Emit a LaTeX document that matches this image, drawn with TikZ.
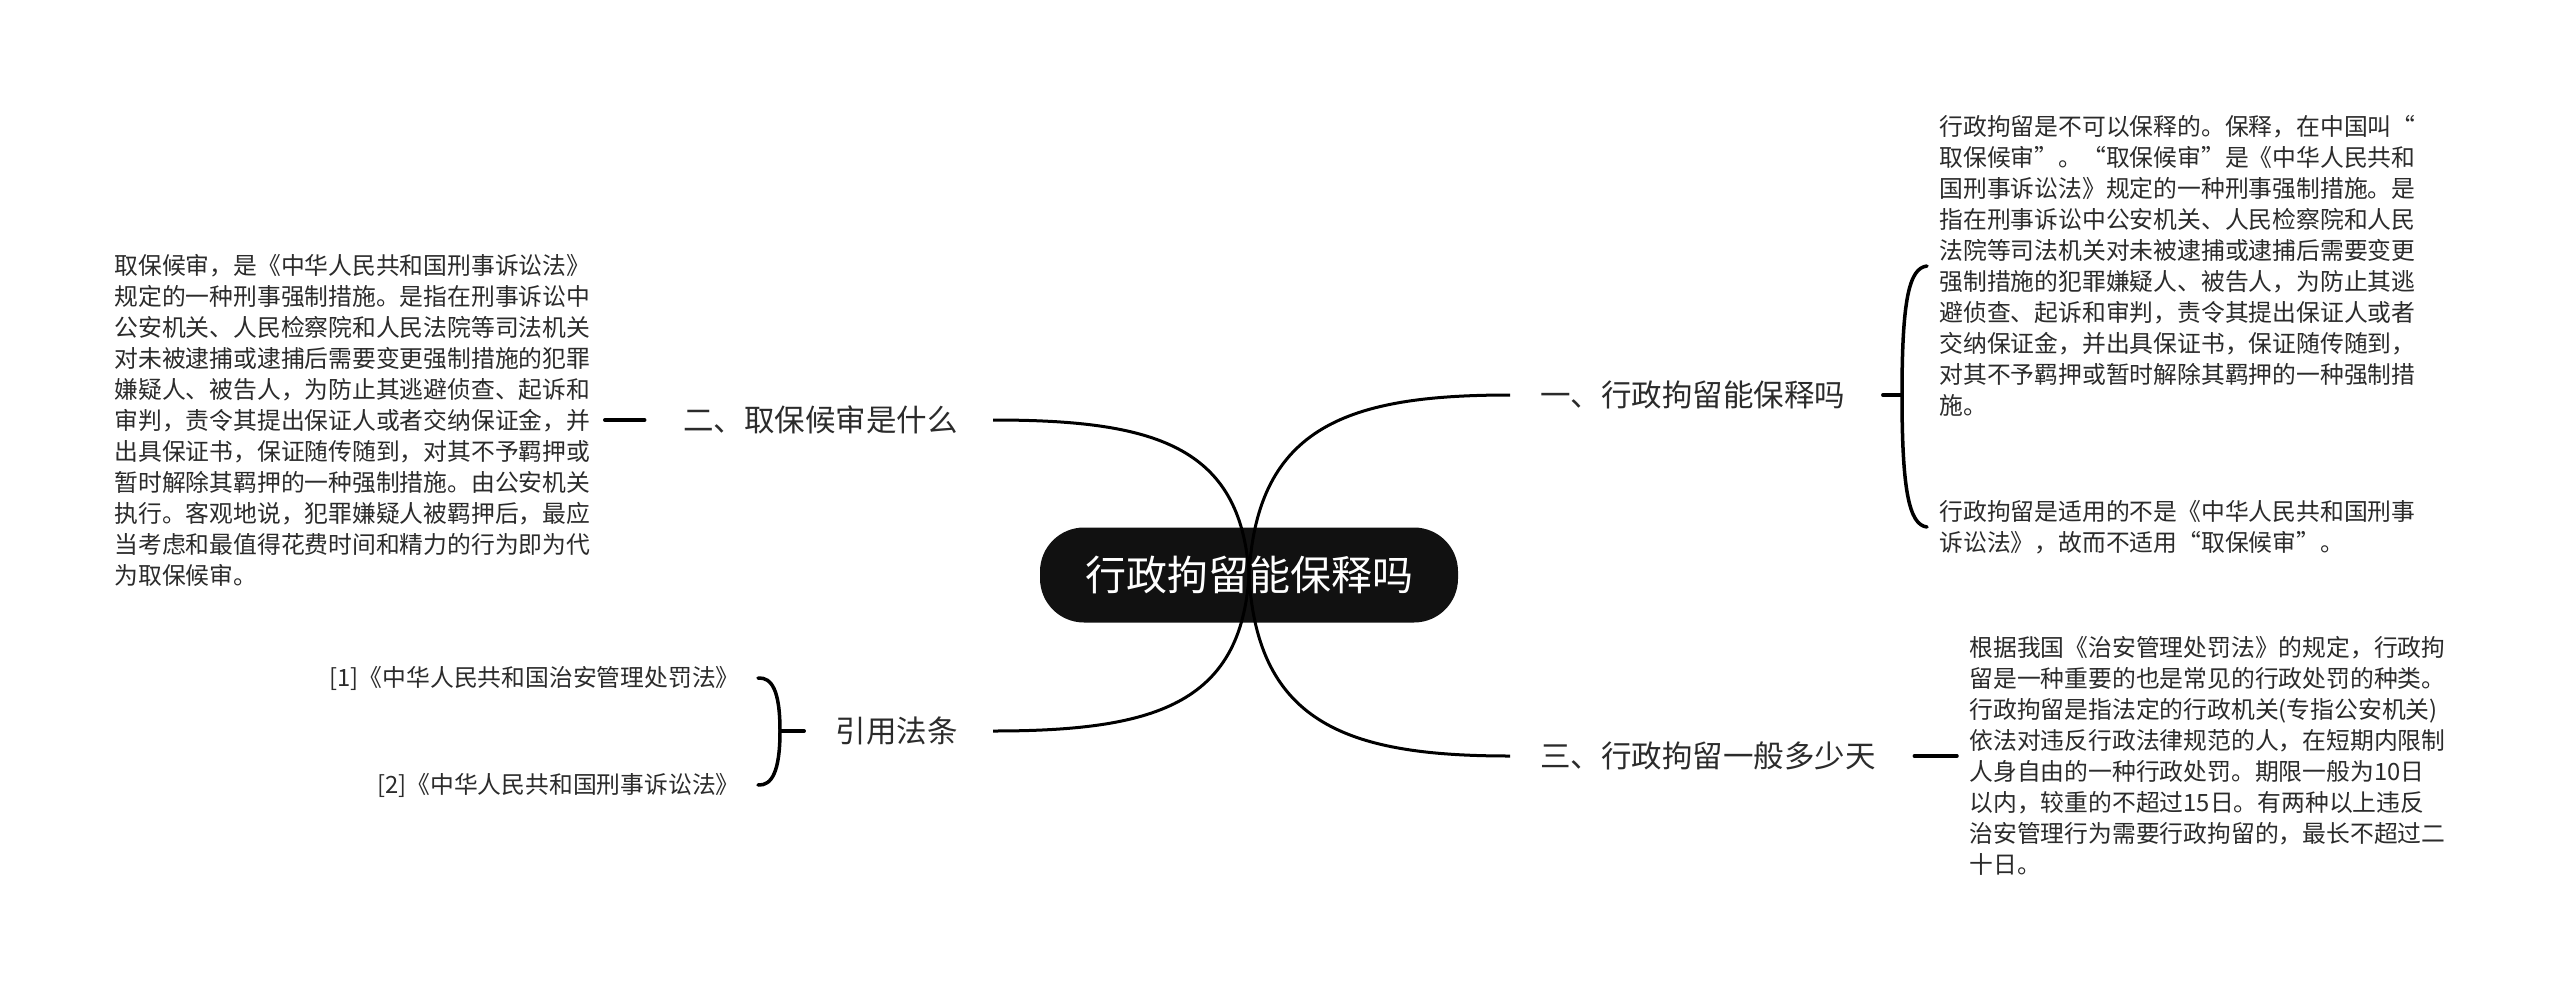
\documentclass[tikz,border=0pt]{standalone}
\usepackage{fontspec}
\setmainfont{Noto Sans CJK SC}
\definecolor{txt}{HTML}{2B2B2B}
\definecolor{rootfill}{HTML}{111111}
\tikzset{
  root/.style={fill=rootfill, rounded corners=22pt, minimum width=209pt, minimum height=47.5pt,
    text=white, inner sep=0pt, font=\fontsize{20.5pt}{24pt}\selectfont},
  topic/.style={inner sep=0pt, text=txt, font=\fontsize{15.25pt}{18pt}\selectfont},
  body/.style={inner sep=0pt, text=txt, align=left, font=\fontsize{11.9pt}{15.5pt}\selectfont},
  conn/.style={line width=1.5pt, black},
  brace/.style={line width=1.75pt, black, line cap=round},
}
\begin{document}
\begin{tikzpicture}[x=0.5pt, y=-0.5pt]
\useasboundingbox (0,0) rectangle (2560,991);
\fill[white] (0,0) rectangle (2560,991);

% root
\node[root] (root) at (1249,575) {行政拘留能保释吗};

% main topics
\node[topic, anchor=west] (t1) at (1540,395) {一、行政拘留能保释吗};
\node[topic, anchor=east] (t2) at (958,420) {二、取保候审是什么};
\node[topic, anchor=east] (t4) at (958,731) {引用法条};
\node[topic, anchor=west] (t3) at (1540,756) {三、行政拘留一般多少天};

% children
\node[body, anchor=west] (c1) at (1939,266) {行政拘留是不可以保释的。保释，在中国叫“\\
取保候审”。“取保候审”是《中华人民共和\\
国刑事诉讼法》规定的一种刑事强制措施。是\\
指在刑事诉讼中公安机关、人民检察院和人民\\
法院等司法机关对未被逮捕或逮捕后需要变更\\
强制措施的犯罪嫌疑人、被告人，为防止其逃\\
避侦查、起诉和审判，责令其提出保证人或者\\
交纳保证金，并出具保证书，保证随传随到，\\
对其不予羁押或暂时解除其羁押的一种强制措\\
施。};
\node[body, anchor=west] (c2) at (1939,527) {行政拘留是适用的不是《中华人民共和国刑事\\
诉讼法》，故而不适用“取保候审”。};
\node[body, anchor=west] (c3) at (1969,756) {根据我国《治安管理处罚法》的规定，行政拘\\
留是一种重要的也是常见的行政处罚的种类。\\
行政拘留是指法定的行政机关(专指公安机关)\\
依法对违反行政法律规范的人，在短期内限制\\
人身自由的一种行政处罚。期限一般为10日\\
以内，较重的不超过15日。有两种以上违反\\
治安管理行为需要行政拘留的，最长不超过二\\
十日。};
\node[body, anchor=west] (c4) at (114,420) {取保候审，是《中华人民共和国刑事诉讼法》\\
规定的一种刑事强制措施。是指在刑事诉讼中\\
公安机关、人民检察院和人民法院等司法机关\\
对未被逮捕或逮捕后需要变更强制措施的犯罪\\
嫌疑人、被告人，为防止其逃避侦查、起诉和\\
审判，责令其提出保证人或者交纳保证金，并\\
出具保证书，保证随传随到，对其不予羁押或\\
暂时解除其羁押的一种强制措施。由公安机关\\
执行。客观地说，犯罪嫌疑人被羁押后，最应\\
当考虑和最值得花费时间和精力的行为即为代\\
为取保候审。};
\node[body, anchor=east] (r1) at (740,678) {[1]《中华人民共和国治安管理处罚法》};
\node[body, anchor=east] (r2) at (740,785) {[2]《中华人民共和国刑事诉讼法》};

% main curves
\draw[conn] (root.center) .. controls +(8,-150) and +(-160,0) .. ([xshift=-15pt]t1.west);
\draw[conn] (root.center) .. controls +(-8,-130) and +(160,0) .. ([xshift=17.5pt]t2.east);
\draw[conn] (root.center) .. controls +(-8,130) and +(160,0) .. ([xshift=17.5pt]t4.east);
\draw[conn] (root.center) .. controls +(8,150) and +(-160,0) .. ([xshift=-15pt]t3.west);

% right-top brace
\coordinate (j1) at (1902,395);
\draw[brace] ([xshift=18.5pt]t1.east) -- (j1);
\draw[brace] (j1) .. controls +(0,-95) and +(-18,2) .. ([xshift=-6pt]c1.west);
\draw[brace] (j1) .. controls +(0,95) and +(-18,-2) .. ([xshift=-6pt]c2.west);

% right-bottom
\draw[brace] ([xshift=19pt]t3.east) -- ([xshift=-6pt]c3.west);

% left-top
\draw[brace] ([xshift=7pt]c4.east) -- ([xshift=-19pt]t2.west);

% left-bottom brace
\coordinate (j4) at (780,731);
\draw[brace] ([xshift=-15.5pt]t4.west) -- (j4);
\draw[brace] (j4) .. controls +(0,-40) and +(14,-1) .. ([xshift=9pt]r1.east);
\draw[brace] (j4) .. controls +(0,40) and +(14,1) .. ([xshift=9pt]r2.east);
\end{tikzpicture}
\end{document}
